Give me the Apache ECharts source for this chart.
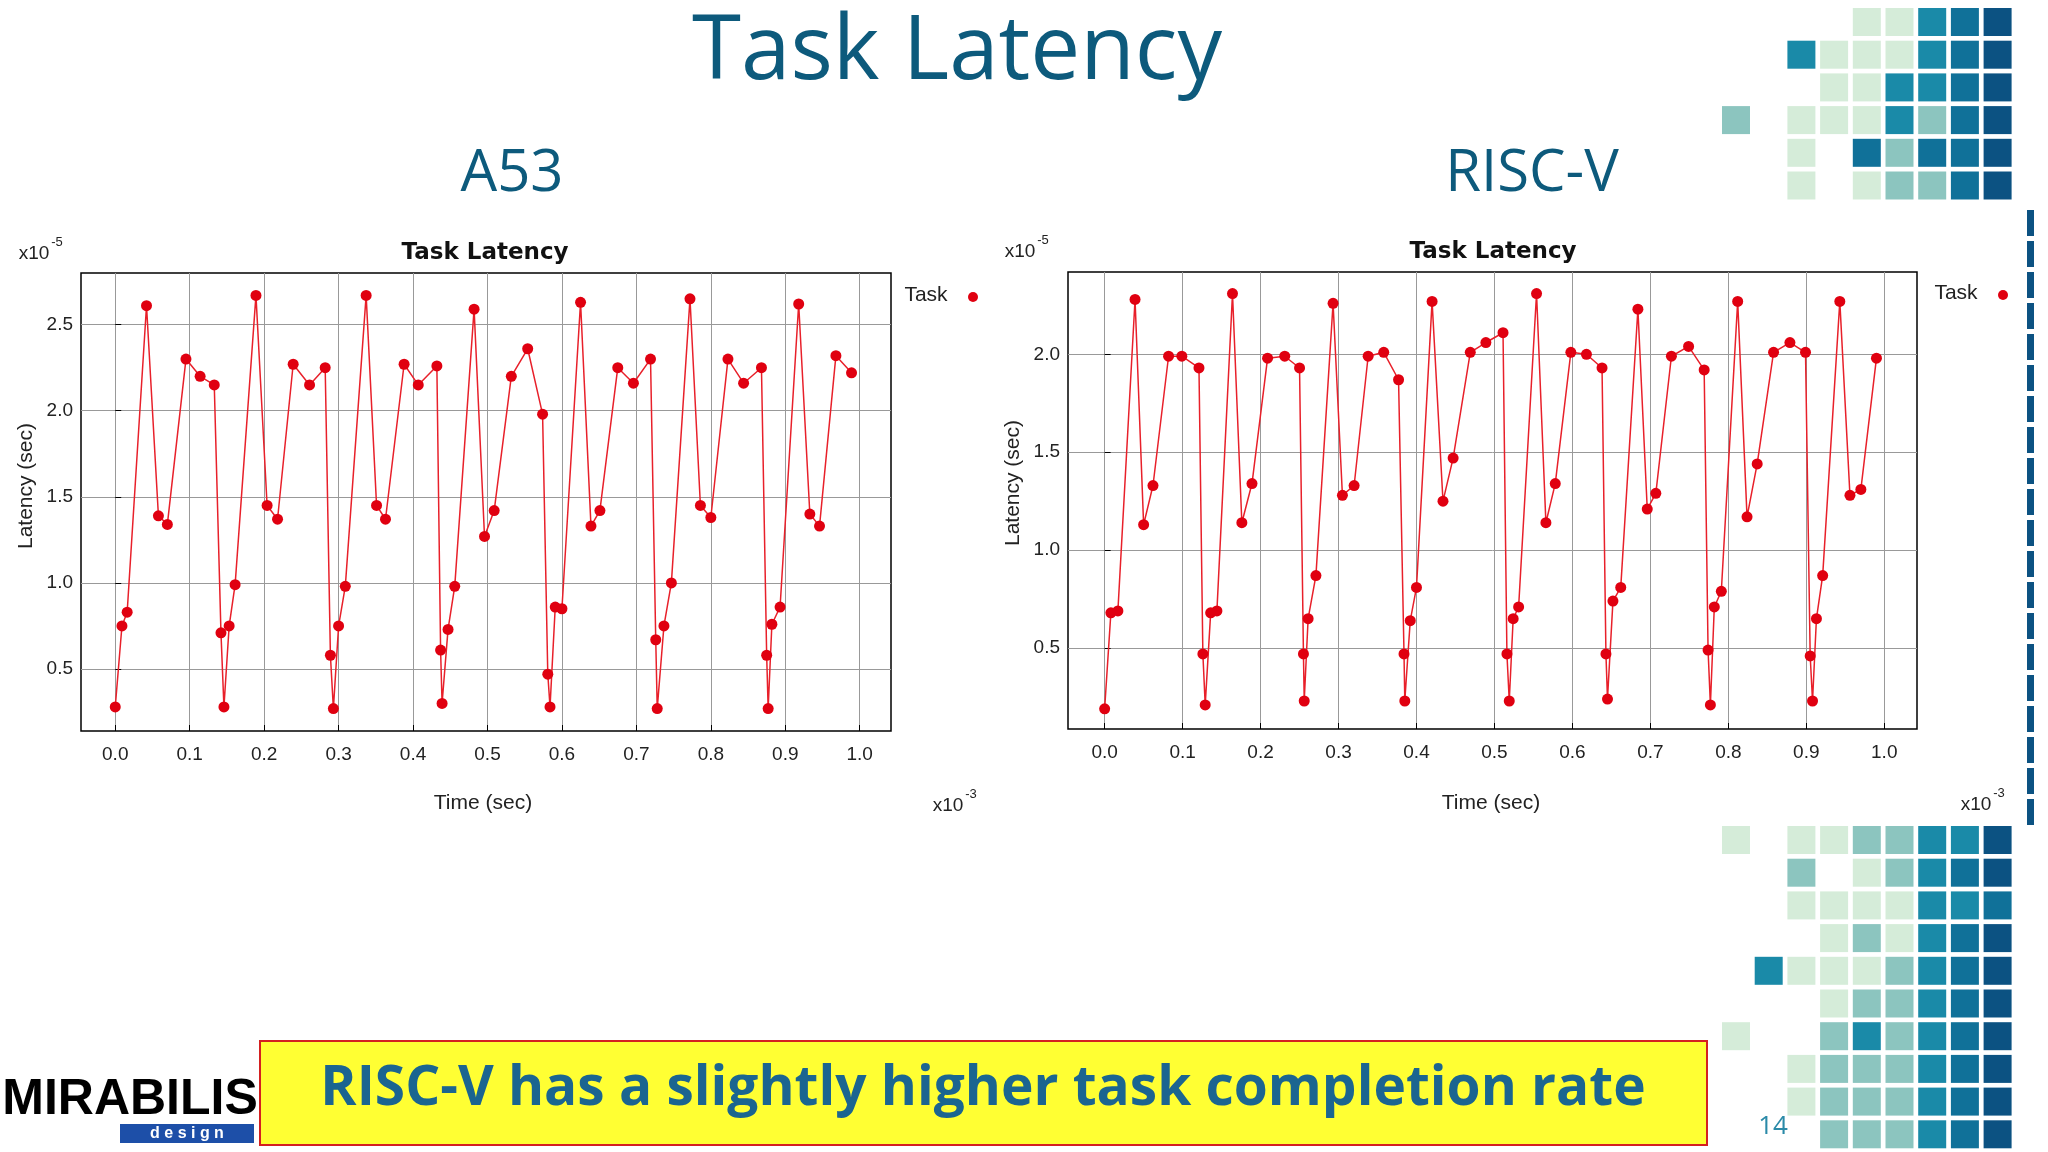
<!DOCTYPE html>
<html>
<head>
<meta charset="utf-8">
<script src="https://cdn.jsdelivr.net/npm/echarts@6/dist/echarts.min.js"></script>
<style>html,body{margin:0;padding:0;background:#fff}#c{width:2048px;height:1152px}</style>
</head>
<body>
<div id="c"></div>
<script>
// time in units of 1e-3 s, latency in units of 1e-5 s
const a53Time = [0.0,0.009,0.016,0.042,0.058,0.07,0.095,0.114,0.133,0.142,0.146,0.153,0.161,0.189,0.204,0.218,0.239,0.261,0.282,0.289,0.293,0.3,0.309,0.337,0.351,0.363,0.388,0.407,0.432,0.437,0.439,0.447,0.456,0.482,0.496,0.509,0.532,0.554,0.574,0.581,0.584,0.591,0.6,0.625,0.639,0.651,0.675,0.696,0.719,0.726,0.728,0.737,0.747,0.772,0.786,0.8,0.823,0.844,0.868,0.875,0.877,0.882,0.893,0.918,0.933,0.946,0.968,0.989];
const a53Latency = [0.28,0.75,0.83,2.61,1.39,1.34,2.30,2.20,2.15,0.71,0.28,0.75,0.99,2.67,1.45,1.37,2.27,2.15,2.25,0.58,0.27,0.75,0.98,2.67,1.45,1.37,2.27,2.15,2.26,0.61,0.30,0.73,0.98,2.59,1.27,1.42,2.20,2.36,1.98,0.47,0.28,0.86,0.85,2.63,1.33,1.42,2.25,2.16,2.30,0.67,0.27,0.75,1.0,2.65,1.45,1.38,2.30,2.16,2.25,0.58,0.27,0.76,0.86,2.62,1.40,1.33,2.32,2.22];
const riscvTime = [0.0,0.008,0.017,0.039,0.05,0.062,0.082,0.099,0.121,0.126,0.129,0.136,0.144,0.164,0.176,0.189,0.209,0.231,0.25,0.255,0.256,0.261,0.271,0.293,0.305,0.32,0.338,0.358,0.377,0.384,0.385,0.392,0.4,0.42,0.434,0.447,0.469,0.489,0.511,0.516,0.519,0.524,0.531,0.554,0.566,0.578,0.598,0.618,0.638,0.643,0.645,0.652,0.662,0.684,0.696,0.707,0.727,0.749,0.769,0.774,0.777,0.782,0.791,0.812,0.824,0.837,0.858,0.879,0.899,0.905,0.908,0.913,0.921,0.943,0.956,0.97,0.99];
const riscvLatency = [0.19,0.68,0.69,2.28,1.13,1.33,1.99,1.99,1.93,0.47,0.21,0.68,0.69,2.31,1.14,1.34,1.98,1.99,1.93,0.47,0.23,0.65,0.87,2.26,1.28,1.33,1.99,2.01,1.87,0.47,0.23,0.64,0.81,2.27,1.25,1.47,2.01,2.06,2.11,0.47,0.23,0.65,0.71,2.31,1.14,1.34,2.01,2.0,1.93,0.47,0.24,0.74,0.81,2.23,1.21,1.29,1.99,2.04,1.92,0.49,0.21,0.71,0.79,2.27,1.17,1.44,2.01,2.06,2.01,0.46,0.23,0.65,0.87,2.27,1.28,1.31,1.98];
const xTicks = [0,0.1,0.2,0.3,0.4,0.5,0.6,0.7,0.8,0.9,1.0];
const a53YTicks = [0.5,1.0,1.5,2.0,2.5];
const riscvYTicks = [0.5,1.0,1.5,2.0];

const chart = echarts.init(document.getElementById('c'));
const font = 'Liberation Sans, Arial, sans-serif';
const teal = '#0d5a7c';

function xAxis(idx, min, max) {
  return {
    type: 'value', gridIndex: idx, min: min, max: max,
    axisLine: { show: false },
    axisTick: { show: true, inside: true, length: 6, customValues: xTicks, lineStyle: { color: '#000' } },
    axisLabel: { customValues: xTicks, formatter: v => v.toFixed(1), fontFamily: font, fontSize: 19, color: '#222', margin: 14 },
    splitLine: { show: true, lineStyle: { color: '#999', width: 1 } }
  };
}
function yAxis(idx, min, max, ticks) {
  return {
    type: 'value', gridIndex: idx, min: min, max: max,
    axisLine: { show: false },
    axisTick: { show: true, inside: true, length: 6, customValues: ticks, lineStyle: { color: '#000' } },
    axisLabel: { customValues: ticks, formatter: v => v.toFixed(1), fontFamily: font, fontSize: 19, color: '#222', margin: 8 },
    splitLine: { show: true, lineStyle: { color: '#999', width: 1 } }
  };
}
function lineSeries(idx, xs, ys) {
  return {
    type: 'line', name: 'Task', xAxisIndex: idx, yAxisIndex: idx,
    data: xs.map((x, i) => [x, ys[i]]),
    symbol: 'circle', symbolSize: 11, showSymbol: true,
    lineStyle: { color: '#e8202a', width: 1.5 },
    itemStyle: { color: '#e00010' },
    animation: false
  };
}

// decorative squares
const squares = [];
const shades = ['#d5ecd9', '#8cc5bf', '#1a8aa8', '#107199', '#0c5282'];
function block(x0, y0, rows, cols, pattern) {
  for (let r = 0; r < rows; r++) {
    for (let c = 0; c < cols; c++) {
      const p = pattern[r][c];
      if (p === '.') continue;
      squares.push({ type: 'rect', shape: { x: x0 + c * 32.7, y: y0 + r * 32.7, width: 28, height: 28 }, style: { fill: shades[+p] } });
    }
  }
}
block(1722, 8, 6, 9, [
  '....00234',
  '..2000234',
  '...002234',
  '1.0002134',
  '..0.31334',
  '..0.01134'
]);
block(1722, 826, 10, 9, [
  '0.0011224',
  '..1.01234',
  '..00002234',
  '...010234',
  '.20001234',
  '...011234',
  '0..121234',
  '..0111234',
  '..0111234',
  '...111234'
]);
for (let i = 0; i < 20; i++) {
  squares.push({ type: 'rect', shape: { x: 2027, y: 210 + i * 31, width: 7, height: 26 }, style: { fill: '#0c5282' } });
}

const txt = (x, y, t, o) => Object.assign({ type: 'text', x: x, y: y, style: Object.assign({ text: t, fontFamily: font, fill: '#222', fontSize: 19, align: 'center', verticalAlign: 'middle' }, o || {}) });

chart.setOption({
  animation: false,
  grid: [
    { left: 81, top: 273, width: 810, height: 458, show: true, borderColor: '#000', borderWidth: 1.5, backgroundColor: '#fff' },
    { left: 1068, top: 272, width: 849, height: 457, show: true, borderColor: '#000', borderWidth: 1.5, backgroundColor: '#fff' }
  ],
  xAxis: [xAxis(0, -0.046, 1.042), xAxis(1, -0.047, 1.042)],
  yAxis: [yAxis(0, 0.14, 2.80, a53YTicks), yAxis(1, 0.087, 2.42, riscvYTicks)],
  series: [lineSeries(0, a53Time, a53Latency), lineSeries(1, riscvTime, riscvLatency)],
  graphic: squares.concat([
    txt(957, 54, 'Task Latency', { fontFamily: 'Open Sans, Noto Sans, sans-serif', fontSize: 89, fill: teal }),
    txt(512, 174, 'A53', { fontFamily: 'Open Sans, Noto Sans, sans-serif', fontSize: 58, fill: teal }),
    txt(1532, 174, 'RISC-V', { fontFamily: 'Open Sans, Noto Sans, sans-serif', fontSize: 58, fill: teal }),
    txt(485, 253, 'Task Latency', { fontWeight: 'bold', fontSize: 23, fill: '#111', fontFamily: 'DejaVu Sans, sans-serif' }),
    txt(1493, 252, 'Task Latency', { fontWeight: 'bold', fontSize: 23, fill: '#111', fontFamily: 'DejaVu Sans, sans-serif' }),
    txt(926, 295, 'Task', { fontSize: 21 }),
    { type: 'circle', shape: { cx: 973, cy: 297, r: 5 }, style: { fill: '#e00010' } },
    txt(1956, 293, 'Task', { fontSize: 21 }),
    { type: 'circle', shape: { cx: 2003, cy: 295, r: 5 }, style: { fill: '#e00010' } },
    txt(34, 254, 'x10', { fontSize: 19 }), txt(57, 242, '-5', { fontSize: 13 }),
    txt(1020, 252, 'x10', { fontSize: 19 }), txt(1043, 240, '-5', { fontSize: 13 }),
    txt(948, 806, 'x10', { fontSize: 19 }), txt(971, 794, '-3', { fontSize: 13 }),
    txt(1976, 805, 'x10', { fontSize: 19 }), txt(1999, 793, '-3', { fontSize: 13 }),
    txt(483, 803, 'Time (sec)', { fontSize: 21 }),
    txt(1491, 803, 'Time (sec)', { fontSize: 21 }),
    Object.assign(txt(0, 0, 'Latency (sec)', { fontSize: 21 }), { x: 26, y: 486, rotation: Math.PI / 2 }),
    Object.assign(txt(0, 0, 'Latency (sec)', { fontSize: 21 }), { x: 1013, y: 483, rotation: Math.PI / 2 }),
    { type: 'rect', shape: { x: 260, y: 1041, width: 1447, height: 104 }, style: { fill: '#ffff33', stroke: '#d42020', lineWidth: 2 } },
    txt(983, 1089, 'RISC-V has a slightly higher task completion rate', { fontFamily: 'Open Sans, Noto Sans, sans-serif', fontWeight: 'bold', fontSize: 55, fill: '#1b6590' }),
    txt(1773, 1127, '14', { fontFamily: 'Open Sans, sans-serif', fontSize: 26, fill: '#2a8aa8' }),
    txt(130, 1100, 'MIRABILIS', { fontFamily: 'Liberation Sans, Arial, sans-serif', fontWeight: 'bold', fontSize: 50, fill: '#000' }),
    { type: 'rect', shape: { x: 120, y: 1124, width: 134, height: 19 }, style: { fill: '#1d4fa8' } },
    txt(187, 1134, 'd e s i g n', { fontWeight: 'bold', fontSize: 16, fill: '#fff' })
  ])
});
</script>
</body>
</html>
